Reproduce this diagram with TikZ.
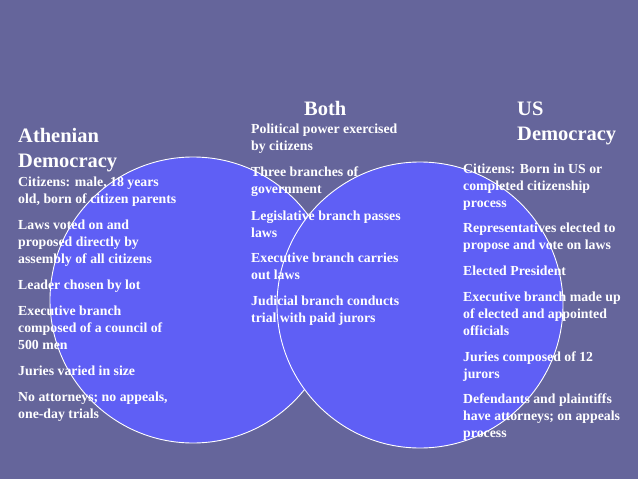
\documentclass[tikz,border=0pt]{standalone}
\usepackage{fontspec}
\setmainfont{Liberation Serif}
\usetikzlibrary{positioning}
\definecolor{slateback}{RGB}{101,101,155}
\definecolor{vennblue}{RGB}{95,95,245}

\begin{document}
\begin{tikzpicture}[x=1pt,y=-1pt]
    \tikzstyle{heading}=[anchor=base west, inner sep=0pt, text=white, align=left, font=\bfseries\fontsize{20.5}{25}\selectfont]
    \tikzstyle{item}=[anchor=base west, inner sep=0pt, text=white, align=left, font=\bfseries\fontsize{13.8}{16.6}\selectfont]
    \tikzstyle{set}=[circle, fill=vennblue, draw=white, line width=0.9pt, minimum size=286pt, inner sep=0pt]

    % Background
    \fill[slateback] (0,0) rectangle (638,479);

    % The two sets
    \node[set] (athens) at (193,300) {};
    \node[set] (usa) at (420,305) {};

    % Headings (placed at the baseline of their last line)
    \node[heading] (athenhead) at (18,167) {Athenian\\Democracy};
    \node[heading] (bothhead) at (304,115) {Both};
    \node[heading] (ushead) at (517,140) {US\\Democracy};

    % Athenian democracy
    \node[item] (athcitizens) at (18,203) {Citizens: male, 18 years\\old, born of citizen parents};
    \node[item] (athlaws) at (18,263) {Laws voted on and\\proposed directly by\\assembly of all citizens};
    \node[item] (athleader) at (18,289) {Leader chosen by lot};
    \node[item] (athexec) at (18,349) {Executive branch\\composed of a council of\\500 men};
    \node[item] (athjuries) at (18,375) {Juries varied in size};
    \node[item] (athtrials) at (18,418) {No attorneys; no appeals,\\one-day trials};

    % Both
    \node[item] (bothpower) at (251,150) {Political power exercised\\by citizens};
    \node[item] (bothbranches) at (251,193) {Three branches of\\government};
    \node[item] (bothlegis) at (251,237) {Legislative branch passes\\laws};
    \node[item] (bothexec) at (251,279) {Executive branch carries\\out laws};
    \node[item] (bothjudic) at (251,322) {Judicial branch conducts\\trial with paid jurors};

    % US democracy
    \node[item] (uscitizens) at (463,207) {Citizens: Born in US or\\completed citizenship\\process};
    \node[item] (usreps) at (463,249) {Representatives elected to\\propose and vote on laws};
    \node[item] (uspres) at (463,275) {Elected President};
    \node[item] (usexec) at (463,335) {Executive branch made up\\of elected and appointed\\officials};
    \node[item] (usjuries) at (463,378) {Juries composed of 12\\jurors};
    \node[item] (usdefend) at (463,437) {Defendants and plaintiffs\\have attorneys; on appeals\\process};
\end{tikzpicture}
\end{document}
